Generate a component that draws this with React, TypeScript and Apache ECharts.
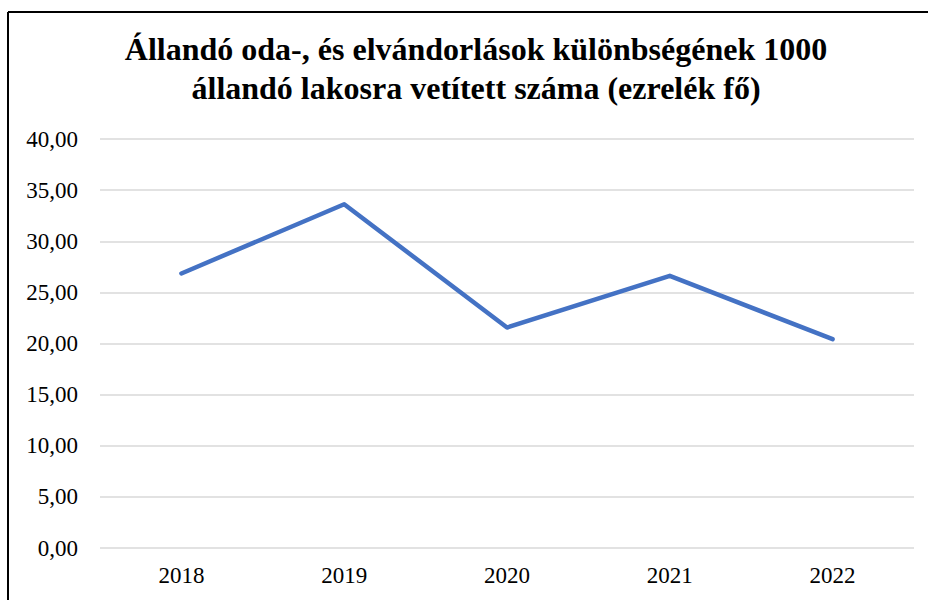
import React, { useEffect, useRef } from "react";
import * as echarts from "echarts";

const titleLines = [
  "Állandó oda-, és elvándorlások különbségének 1000",
  "állandó lakosra vetített száma (ezrelék fő)",
];
const years = ["2018", "2019", "2020", "2021", "2022"];
const values = [26.85, 33.62, 21.56, 26.62, 20.42];
const yMin = 0;
const yMax = 40;
const yStep = 5;

export default function App() {
  const ref = useRef<HTMLDivElement>(null);
  useEffect(() => {
    if (!ref.current) return;
    const chart = echarts.init(ref.current, null, { renderer: "svg" });
    const font = "Liberation Serif";
    chart.setOption({
      animation: false,
      backgroundColor: "#ffffff",
      graphic: [
        {
          type: "line",
          shape: { x1: 8, y1: 12, x2: 928, y2: 12 },
          style: { stroke: "#000000", lineWidth: 2 },
        },
        {
          type: "line",
          shape: { x1: 8, y1: 12, x2: 8, y2: 600 },
          style: { stroke: "#000000", lineWidth: 2 },
        },
        {
          type: "text",
          x: 476,
          y: 29,
          style: {
            text: titleLines.join("\n"),
            fontFamily: font,
            fontWeight: "bold",
            fontSize: 32,
            lineHeight: 39,
            fill: "#000000",
            align: "center",
            verticalAlign: "top",
          },
        },
      ],
      grid: { left: 100, right: 14, top: 139, bottom: 52, containLabel: false },
      xAxis: {
        type: "category",
        data: years,
        boundaryGap: true,
        axisLine: { show: false },
        axisTick: { show: false },
        axisLabel: {
          fontFamily: font,
          fontSize: 23,
          color: "#000000",
          margin: 16,
        },
      },
      yAxis: {
        type: "value",
        min: yMin,
        max: yMax,
        interval: yStep,
        axisLine: { show: false },
        axisTick: { show: false },
        splitLine: { lineStyle: { color: "#d9d9d9", width: 1.5 } },
        axisLabel: {
          fontFamily: font,
          fontSize: 23,
          color: "#000000",
          margin: 22,
          formatter: (v: number) => v.toFixed(2).replace(".", ","),
        },
      },
      series: [
        {
          type: "line",
          data: values,
          symbol: "none",
          lineStyle: { color: "#4472c4", width: 4.5, cap: "round", join: "round" },
        },
      ],
    });
    return () => chart.dispose();
  }, []);
  return (
    <div
      ref={ref}
      style={{ position: "fixed", left: 0, top: 0, width: 928, height: 600, background: "#fff" }}
    />
  );
}
